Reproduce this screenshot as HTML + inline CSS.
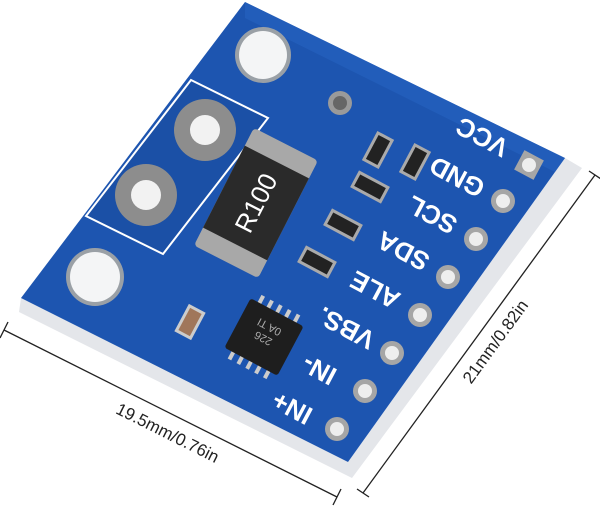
<!DOCTYPE html>
<html><head><meta charset="utf-8"><style>
html,body{margin:0;padding:0;background:#fff;}
svg{display:block;}
</style></head><body>
<svg width="600" height="507" viewBox="0 0 600 507" xmlns="http://www.w3.org/2000/svg" font-family="Liberation Sans, sans-serif">
<rect width="600" height="507" fill="#fff"/>
<polygon points="21,298 348,462 565,158 582,168 352,478 19,312" fill="#e4e6ea"/>
<polygon points="245,2 565,158 348,462 21,298" fill="#1d55b0"/>
<polygon points="245,2 565,158 555,172 245,18 " fill="#2766c4" opacity="0.5"/>
<polygon points="191,80 268,118 163,254 86,216" fill="#1b50a6" stroke="#fff" stroke-width="2"/>
<circle cx="263" cy="55" r="28" fill="#9aa0a6"/><circle cx="263" cy="55" r="24" fill="#f4f5f6"/>
<circle cx="95" cy="277" r="29" fill="#9aa0a6"/><circle cx="95" cy="277" r="25" fill="#f4f5f6"/>
<circle cx="205" cy="130" r="31" fill="#8d8d8d"/><circle cx="205" cy="130" r="15" fill="#f2f2f2"/>
<circle cx="146" cy="195" r="31" fill="#8d8d8d"/><circle cx="146" cy="195" r="15" fill="#f2f2f2"/>
<circle cx="340" cy="103" r="12" fill="#9a9a9a"/><circle cx="340" cy="103" r="7" fill="#666"/>
<g transform="translate(256,203) rotate(117)">
<rect x="-66" y="-36" width="132" height="72" rx="4" fill="#a8a8a8"/>
<rect x="-46" y="-36" width="92" height="72" fill="#2a2a2a"/>
<text x="0" y="9" font-size="26" fill="#fff" text-anchor="middle" transform="rotate(180)">R100</text>
</g>
<g fill="#222" stroke="#aaa" stroke-width="3">
<rect x="-15" y="-8" width="30" height="16" transform="translate(378,150) rotate(-62)"/>
<rect x="-15" y="-8" width="30" height="16" transform="translate(415,162) rotate(-62)"/>
<rect x="-16" y="-8" width="32" height="16" transform="translate(370,187) rotate(28)"/>
<rect x="-16" y="-8" width="32" height="16" transform="translate(343,225) rotate(28)"/>
<rect x="-16" y="-8" width="32" height="16" transform="translate(317,262) rotate(28)"/>
</g>
<rect x="-8" y="-14" width="16" height="28" fill="#a0765a" stroke="#ccc" stroke-width="3" transform="translate(190,322) rotate(28)"/>
<g transform="translate(264,337) rotate(28)">
<g fill="#ccc"><rect x="-22" y="-36" width="4" height="12"/><rect x="-12" y="-36" width="4" height="12"/><rect x="-2" y="-36" width="4" height="12"/><rect x="8" y="-36" width="4" height="12"/><rect x="18" y="-36" width="4" height="12"/>
<rect x="-22" y="24" width="4" height="12"/><rect x="-12" y="24" width="4" height="12"/><rect x="-2" y="24" width="4" height="12"/><rect x="8" y="24" width="4" height="12"/><rect x="18" y="24" width="4" height="12"/></g>
<rect x="-30" y="-28" width="60" height="56" rx="3" fill="#1e1e1e"/>
<text x="0" y="2" font-size="11" fill="#aaa" text-anchor="middle" transform="rotate(180)">226</text>
<text x="0" y="15" font-size="11" fill="#aaa" text-anchor="middle" transform="rotate(180)">0A TI</text>
</g>
<rect x="518" y="154" width="22" height="22" fill="#a6a6a6" transform="rotate(28 529 165)"/><circle cx="529" cy="165" r="7" fill="#eee"/>
<g fill="#a6a6a6">
<circle cx="503" cy="201" r="12"/><circle cx="476" cy="239" r="12"/><circle cx="448" cy="277" r="12"/><circle cx="420" cy="315" r="12"/><circle cx="392" cy="353" r="12"/><circle cx="365" cy="391" r="12"/><circle cx="337" cy="429" r="12"/>
</g>
<g fill="#eee">
<circle cx="503" cy="201" r="7"/><circle cx="476" cy="239" r="7"/><circle cx="448" cy="277" r="7"/><circle cx="420" cy="315" r="7"/><circle cx="392" cy="353" r="7"/><circle cx="365" cy="391" r="7"/><circle cx="337" cy="429" r="7"/>
</g>
<g fill="#fff" font-size="26" font-weight="bold" text-anchor="middle">
<text transform="translate(482,137) rotate(208)" dy="9">VCC</text>
<text transform="translate(457,177) rotate(208)" dy="9">GND</text>
<text transform="translate(432,215) rotate(208)" dy="9">SCL</text>
<text transform="translate(403,251) rotate(208)" dy="9">SDA</text>
<text transform="translate(375,290) rotate(208)" dy="9">ALE</text>
<text transform="translate(346,328) rotate(208)" dy="9">VBS.</text>
<text transform="translate(319,370) rotate(208)" dy="9">IN-</text>
<text transform="translate(292,408) rotate(208)" dy="9">IN+</text>
</g>
<g stroke="#222" stroke-width="1.3">
<line x1="4" y1="330" x2="337" y2="497"/>
<line x1="0" y1="338" x2="8" y2="322"/>
<line x1="333" y1="505" x2="341" y2="489"/>
<line x1="595" y1="175" x2="363" y2="493"/>
<line x1="589" y1="171" x2="601" y2="179"/>
<line x1="357" y1="489" x2="369" y2="497"/>
</g>
<text transform="translate(165,438) rotate(26.6)" font-size="17" fill="#222" text-anchor="middle">19.5mm/0.76in</text>
<text transform="translate(500,345) rotate(-54)" font-size="17" fill="#222" text-anchor="middle">21mm/0.82in</text>
</svg>
</body></html>
